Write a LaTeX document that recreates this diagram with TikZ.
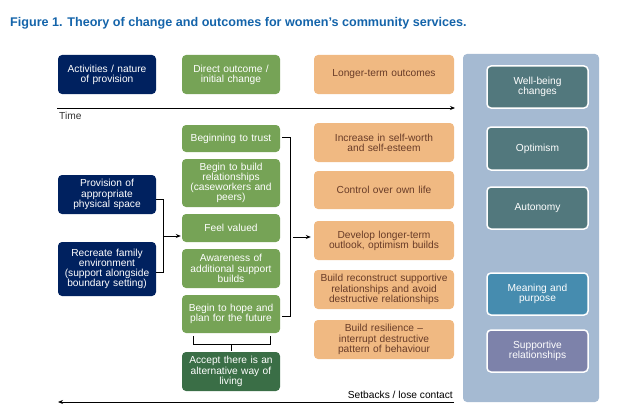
\documentclass[tikz,border=0pt]{standalone}
\usepackage{fontspec}
\setmainfont{Liberation Sans}
\usetikzlibrary{arrows.meta}
\definecolor{navyc}{RGB}{0,33,95}
\definecolor{greenc}{RGB}{118,163,86}
\definecolor{dgreenc}{RGB}{58,110,70}
\definecolor{orangec}{RGB}{240,185,130}
\definecolor{otext}{RGB}{105,60,40}
\definecolor{panelc}{RGB}{165,186,210}
\definecolor{tealc}{RGB}{82,120,125}
\definecolor{meanc}{RGB}{70,140,175}
\definecolor{suppc}{RGB}{125,130,170}
\definecolor{titlec}{RGB}{20,100,170}
\tikzset{
  base/.style={rounded corners=4pt, align=center, inner sep=1pt, font=\fontsize{10.2}{10.2}\selectfont},
  navybox/.style={base, fill=navyc, text=white, minimum width=98pt, text width=96pt},
  greenbox/.style={base, fill=greenc, text=white, minimum width=98pt, text width=96pt},
  dgreenbox/.style={base, fill=dgreenc, text=white, minimum width=98pt, text width=96pt},
  orangebox/.style={base, fill=orangec, text=otext, minimum width=140pt, text width=138pt},
  rbox/.style={base, draw=white, line width=1.5pt, text=white, minimum width=101pt, text width=95pt},
  conn/.style={line width=0.8pt, black},
  arr/.style={conn, -{Stealth[length=5pt,width=4pt]}},
}
\begin{document}
\begin{tikzpicture}[x=1pt,y=-1pt]
\useasboundingbox (0,0) rectangle (618,420);
% title
\node[anchor=base west, inner sep=0, text=titlec, font=\fontsize{12.6}{14}\bfseries] (title) at (10,26.5) {Figure 1. Theory of change and outcomes for women’s community services.};
% panel
\fill[panelc, rounded corners=4pt] (463,54) rectangle (599,402);
% header row
\node[navybox, minimum height=39pt] (act) at (107,74.5) {Activities / nature\\of provision};
\node[greenbox, minimum height=39pt] (dir) at (231,74.5) {Direct outcome /\\initial change};
\node[orangebox, minimum height=39pt] (lto) at (384,74.5) {Longer-term outcomes};
% right panel boxes
\node[rbox, fill=tealc, minimum height=42pt] (well) at (537.5,87) {Well-being\\changes};
\node[rbox, fill=tealc, minimum height=43pt] (opt) at (537.5,148.5) {Optimism};
\node[rbox, fill=tealc, minimum height=42pt] (aut) at (537.5,208) {Autonomy};
\node[rbox, fill=meanc, minimum height=42pt] (mean) at (537.5,294) {Meaning and\\purpose};
\node[rbox, fill=suppc, minimum height=42pt] (supp) at (537.5,351) {Supportive\\relationships};
% time arrow
\coordinate (t1) at (57,108);
\coordinate (t2) at (455,108);
\draw[arr] (t1) -- (t2);
\node[anchor=north west, inner sep=0, font=\fontsize{10.2}{10.2}\selectfont, text=black!80] (time) at (59,112) {Time};
% navy activities
\node[navybox, minimum height=39pt] (prov) at (107,194.5) {Provision of\\appropriate\\physical space};
\node[navybox, minimum height=54pt] (rec) at (107,269) {Recreate family\\environment\\(support alongside\\boundary setting)};
% green column
\node[greenbox, minimum height=27pt] (trust) at (231,138.5) {Beginning to trust};
\node[greenbox, minimum height=48pt] (build) at (231,183) {Begin to build\\relationships\\(caseworkers and\\peers)};
\node[greenbox, minimum height=28pt] (fv) at (231,228) {Feel valued};
\node[greenbox, minimum height=39pt] (aware) at (231,268.5) {Awareness of\\additional support\\builds};
\node[greenbox, minimum height=38pt] (hope) at (231,314) {Begin to hope and\\plan for the future};
\node[dgreenbox, minimum height=39pt] (accept) at (231,371.5) {Accept there is an\\alternative way of\\living};
% orange column
\node[orangebox, minimum height=39pt] (self) at (384,142.5) {Increase in self-worth\\and self-esteem};
\node[orangebox, minimum height=38pt] (ctrl) at (384,190) {Control over own life};
\node[orangebox, minimum height=39pt] (dev) at (384,240.5) {Develop longer-term\\outlook, optimism builds};
\node[orangebox, minimum height=39pt] (recon) at (384,289.5) {Build reconstruct supportive\\relationships and avoid\\destructive relationships};
\node[orangebox, minimum height=39pt] (resil) at (384,339.5) {Build resilience –\\interrupt destructive\\pattern of behaviour};
% left bracket
\coordinate (jl) at (163,236);
\draw[conn] ([yshift=-4.5pt]prov.east) -- ++(7,0) |- ([yshift=-3pt]rec.east);
\draw[arr] (jl) -- ([xshift=-1pt]fv.west |- jl);
% right bracket
\coordinate (jr) at (293,237);
\draw[conn] ([xshift=2pt,yshift=1.5pt]trust.east) -- ++(8,0) |- ([xshift=2pt,yshift=-2pt]hope.east);
\draw[arr] (jr) -- ([xshift=-3pt]dev.west |- jr);
% bottom bracket
\draw[conn] ([xshift=-38pt,yshift=-3pt]hope.south) -- ++(0,8) -- ++(77,0) -- ++(0,-8);
\draw[conn] ([yshift=-11pt]hope.south) -- ([yshift=1pt]accept.north);
% setbacks arrow
\coordinate (b1) at (454,402);
\coordinate (b2) at (58,402);
\draw[arr] (b1) -- (b2);
\node[anchor=base east, inner sep=0, font=\fontsize{10.2}{10.2}\selectfont] (setb) at (453,398) {Setbacks / lose contact};
\end{tikzpicture}
\end{document}
